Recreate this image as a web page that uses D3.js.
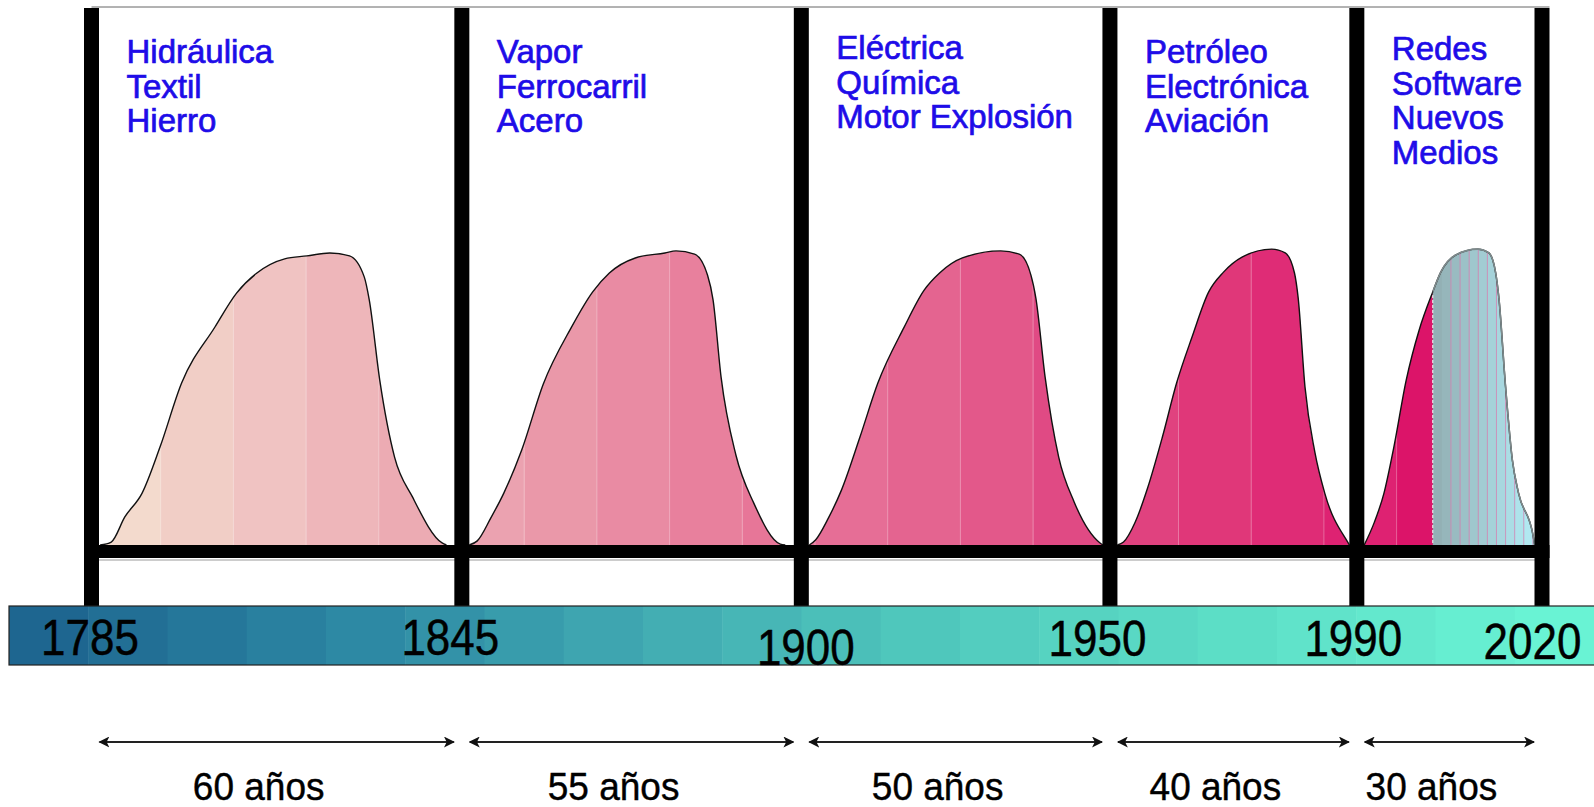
<!DOCTYPE html>
<html><head><meta charset="utf-8">
<script src="https://cdn.jsdelivr.net/npm/d3@7"></script>
<style>body{margin:0;background:#fff;overflow:hidden} svg{display:block}</style>
</head><body><svg id="c" width="1594" height="807"></svg>
<script>
// ---------- data ----------
const years = [1785, 1845, 1900, 1950, 1990, 2020];
const durationLabels = ["60 años", "55 años", "50 años", "40 años", "30 años"];
const technologies = [
  ["Hidráulica", "Textil", "Hierro"],
  ["Vapor", "Ferrocarril", "Acero"],
  ["Eléctrica", "Química", "Motor Explosión"],
  ["Petróleo", "Electrónica", "Aviación"],
  ["Redes", "Software", "Nuevos", "Medios"]
];
const wave1Year  = [1786.4,1788.2,1790.4,1793.2,1796.1,1799.6,1805.0,1808.5,1811.8,1816.3,1819.9,1823.6,1826.8,1829.2,1830.0,1831.7,1834.1,1837.0,1841.8,1842.5];
const wave1Level = [0,1.0,9.5,17.6,33.2,54.9,73.9,85.4,92.2,97.0,98.0,99.0,98.0,90.8,83.1,55.9,29.8,16.3,0.7,0];
const wave2Year  = [1846.2,1847.5,1849.7,1851.8,1854.7,1858.2,1862.7,1866.2,1868.9,1873.1,1877.9,1879.7,1882.7,1884.8,1885.7,1887.0,1889.4,1892.3,1896.6,1897.4];
const wave2Level = [0,1.4,9.2,17.6,32.2,54.6,73.6,85.8,92.2,97.3,99.0,99.7,98.6,91.5,83.1,56.9,30.5,14.2,0.3,0];
const wave3Year  = [1901.3,1902.3,1904.4,1906.5,1909.5,1912.4,1916.6,1919.9,1922.4,1926.1,1932.3,1935.3,1937.2,1938.0,1939.5,1941.7,1944.2,1948.4,1948.9];
const wave3Level = [0,1.7,9.2,18.6,36.6,54.9,73.6,86.4,92.2,97.3,99.7,98.6,91.5,83.7,56.9,29.8,14.6,0.7,0];
const wave4Year  = [1951.2,1952.2,1954.1,1956.1,1958.5,1960.8,1963.3,1966.0,1968.4,1971.4,1976.2,1978.4,1979.9,1980.5,1981.6,1983.2,1984.8,1988.6,1988.8];
const wave4Level = [0,1.0,7.8,19.3,36.6,54.9,70.5,85.8,92.5,97.6,100.3,99.0,92.2,83.7,53.6,31.5,17.6,0.7,0];
const wave5Year  = [1991.2,1992.8,1994.4,1996.0,1998.0,2000.1,2002.3,2003.6,2006.0,2009.6,2011.4,2012.5,2013.0,2014.1,2015.2,2016.2,2018.6,2018.8];
const wave5Level = [0,7.5,17.6,33.2,55.9,72.9,85.8,92.5,98.3,100.3,99.0,92.2,84.1,53.6,28.8,17.6,2.7,0];
const digitalStart = 2002.3;

// ---------- styles ----------
const pinkSteps = ["#f3dacd","#f1cec6","#f0c3c2","#eeb6ba","#ecabb3","#eba2b0","#ea98a9","#e98ba3","#e8809d","#e77698",
                   "#e66e96","#e46490","#e3588a","#e04a84","#e0427f","#e03779","#df2c76","#de2272","#dc1469","#db1266"];
const bandColor = d3.piecewise(d3.interpolateRgb, ["#1e6690","#2c87a3","#41abb2","#51cabd","#5ddfc7","#69f3d4"]);
const tealColor = d3.interpolateRgb("#93b0b5", "#b4eef7");
const blue = "#1e0ce8";
const font = "'Liberation Sans', Arial, Helvetica, sans-serif";

// ---------- scales ----------
const W = 1594, H = 807;
const x = d3.scaleLinear().domain([1785, 2020]).range([91.5, 1542]);
const y = d3.scaleLinear().domain([0, 100]).range([545, 250]);
const barW = 15, panelTop = 8, hBarTop = 545, hBarH = 13, bandTop = 606, bandBottom = 665;

const svg = d3.select("#c");
const defs = svg.append("defs");

const waves = [
  d3.zip(wave1Year, wave1Level), d3.zip(wave2Year, wave2Level), d3.zip(wave3Year, wave3Level),
  d3.zip(wave4Year, wave4Level), d3.zip(wave5Year, wave5Level)
].map(w => w.map(([yr, lv]) => ({year: yr, level: lv})));

const curve = d3.curveMonotoneX;
const area = d3.area().x(d => x(d.year)).y0(y(0)).y1(d => y(d.level)).curve(curve);
const line = d3.line().x(d => x(d.year)).y(d => y(d.level)).curve(curve);

// top thin line
svg.append("line").attr("x1", x(1785)).attr("x2", x(2020) + barW / 2)
  .attr("y1", 7).attr("y2", 7).attr("stroke", "#666").attr("stroke-width", 1);

// clips
defs.append("clipPath").attr("id", "wavesClip").selectAll("path").data(waves).join("path").attr("d", area);
defs.append("clipPath").attr("id", "wave5Clip").append("path").attr("d", area(waves[4]));
defs.append("clipPath").attr("id", "digitalClip").append("rect")
  .attr("x", x(digitalStart)).attr("y", 0).attr("width", W).attr("height", H);

// pink stepped fill
const pinkStart = x(1785) - 3.5, pinkW = (x(2020) - pinkStart) / pinkSteps.length;
const pinkG = svg.append("g").attr("clip-path", "url(#wavesClip)");
pinkG.selectAll("rect").data(pinkSteps).join("rect")
  .attr("x", (d, i) => pinkStart + i * pinkW).attr("y", 200).attr("width", pinkW + 0.5).attr("height", 360)
  .attr("fill", d => d);
pinkG.selectAll("line").data(d3.range(1, pinkSteps.length)).join("line")
  .attr("x1", i => pinkStart + i * pinkW).attr("x2", i => pinkStart + i * pinkW)
  .attr("y1", 200).attr("y2", 560).attr("stroke", "#fff").attr("stroke-opacity", 0.3).attr("stroke-width", 1);

// digital (teal) overlay on last wave
const tealN = 12, tealStart = x(digitalStart), tealW = (x(2020) - tealStart) / tealN;
const tealG = svg.append("g").attr("clip-path", "url(#wave5Clip)");
tealG.selectAll("rect").data(d3.range(tealN)).join("rect")
  .attr("x", i => tealStart + i * tealW).attr("y", 200).attr("width", tealW + 0.5).attr("height", 360)
  .attr("fill", i => tealColor(i / (tealN - 1)));
tealG.selectAll("line.seam").data(d3.range(2, tealN)).join("line").attr("class", "seam")
  .attr("x1", i => tealStart + i * tealW).attr("x2", i => tealStart + i * tealW)
  .attr("y1", 200).attr("y2", 560).attr("stroke", "#d57fb0").attr("stroke-opacity", 0.75).attr("stroke-width", 1);
tealG.append("line").attr("x1", tealStart).attr("x2", tealStart).attr("y1", 200).attr("y2", 560)
  .attr("stroke", "#e8e8e8").attr("stroke-width", 1.2).attr("stroke-dasharray", "3,2");

// outlines
svg.append("g").selectAll("path").data(waves).join("path")
  .attr("d", line).attr("fill", "none").attr("stroke", "#111").attr("stroke-width", 1.4);
svg.append("path").attr("d", line(waves[4])).attr("clip-path", "url(#digitalClip)")
  .attr("fill", "none").attr("stroke", "#7d8a8c").attr("stroke-width", 1.6);

// horizontal black bar
svg.append("rect").attr("x", x(1785) - barW / 2).attr("y", hBarTop)
  .attr("width", x(2020) - x(1785) + barW).attr("height", hBarH).attr("fill", "#000");
svg.append("line").attr("x1", x(1785)).attr("x2", x(2020)).attr("y1", hBarTop + hBarH + 2).attr("y2", hBarTop + hBarH + 2)
  .attr("stroke", "#999").attr("stroke-width", 1);

// vertical black bars
svg.append("g").selectAll("rect").data(years).join("rect")
  .attr("x", d => x(d) - barW / 2).attr("y", panelTop).attr("width", barW)
  .attr("height", bandTop - panelTop).attr("fill", "#000");

// timeline band
const bandN = 20, bandX0 = 9, bandStepW = (W - bandX0) / bandN;
const bandG = svg.append("g");
bandG.selectAll("rect").data(d3.range(bandN)).join("rect")
  .attr("x", i => bandX0 + i * bandStepW).attr("y", bandTop).attr("width", bandStepW + 0.5)
  .attr("height", bandBottom - bandTop).attr("fill", i => bandColor(i / (bandN - 1)));
bandG.append("rect").attr("x", bandX0).attr("y", bandTop).attr("width", W - bandX0 + 2)
  .attr("height", bandBottom - bandTop).attr("fill", "none").attr("stroke", "#222").attr("stroke-width", 1.2);

// year labels via axis
const labelShift = {1785: [-2, 0], 1845: [-12, 0], 1900: [4, 10], 1950: [-13, 1], 1990: [-4, 1], 2020: [-10, 4]};
const axisG = svg.append("g").attr("transform", `translate(0,${655})`)
  .call(d3.axisBottom(x).tickValues(years).tickSize(0).tickFormat(d3.format("d")));
axisG.select(".domain").remove();
axisG.selectAll(".tick text")
  .attr("y", 0).attr("dy", 0)
  .attr("transform", d => `translate(${labelShift[d][0]},${labelShift[d][1]}) scale(1,1.12)`)
  .attr("font-family", font).attr("font-size", 44).attr("fill", "#000").attr("text-anchor", "middle")
  .attr("stroke", "#000").attr("stroke-width", 0.4);

// technology labels
const techG = svg.append("g");
technologies.forEach((lines, i) => {
  const t = techG.append("text").attr("x", x(years[i]) + 35).attr("y", i === 4 ? 60 : (i === 2 ? 59 : 63))
    .attr("font-family", font).attr("font-size", 33).attr("fill", blue)
    .attr("stroke", blue).attr("stroke-width", 0.7);
  lines.forEach((s, j) => t.append("tspan").attr("x", x(years[i]) + 35).attr("dy", j === 0 ? 0 : 34.5).text(s));
});

// duration arrows
defs.append("marker").attr("id", "ah").attr("viewBox", "0 0 10 10").attr("refX", 9).attr("refY", 5)
  .attr("markerWidth", 11).attr("markerHeight", 11).attr("markerUnits", "userSpaceOnUse").attr("orient", "auto-start-reverse")
  .append("path").attr("d", "M0,0 L10,5 L0,10 L2.5,5 Z").attr("fill", "#111");
const periods = d3.pairs(years);
const arrowG = svg.append("g");
arrowG.selectAll("line").data(periods).join("line")
  .attr("x1", d => x(d[0]) + 8).attr("x2", d => x(d[1]) - 8).attr("y1", 742).attr("y2", 742)
  .attr("stroke", "#222").attr("stroke-width", 1.8)
  .attr("marker-start", "url(#ah)").attr("marker-end", "url(#ah)");
arrowG.selectAll("text").data(periods).join("text")
  .attr("transform", d => `translate(${(x(d[0]) + x(d[1])) / 2 - 18},800) scale(1,1.06)`)
  .attr("text-anchor", "middle").attr("font-family", font).attr("font-size", 37).attr("fill", "#000")
  .attr("stroke", "#000").attr("stroke-width", 0.4)
  .text((d, i) => durationLabels[i]);
</script>
</body></html>
